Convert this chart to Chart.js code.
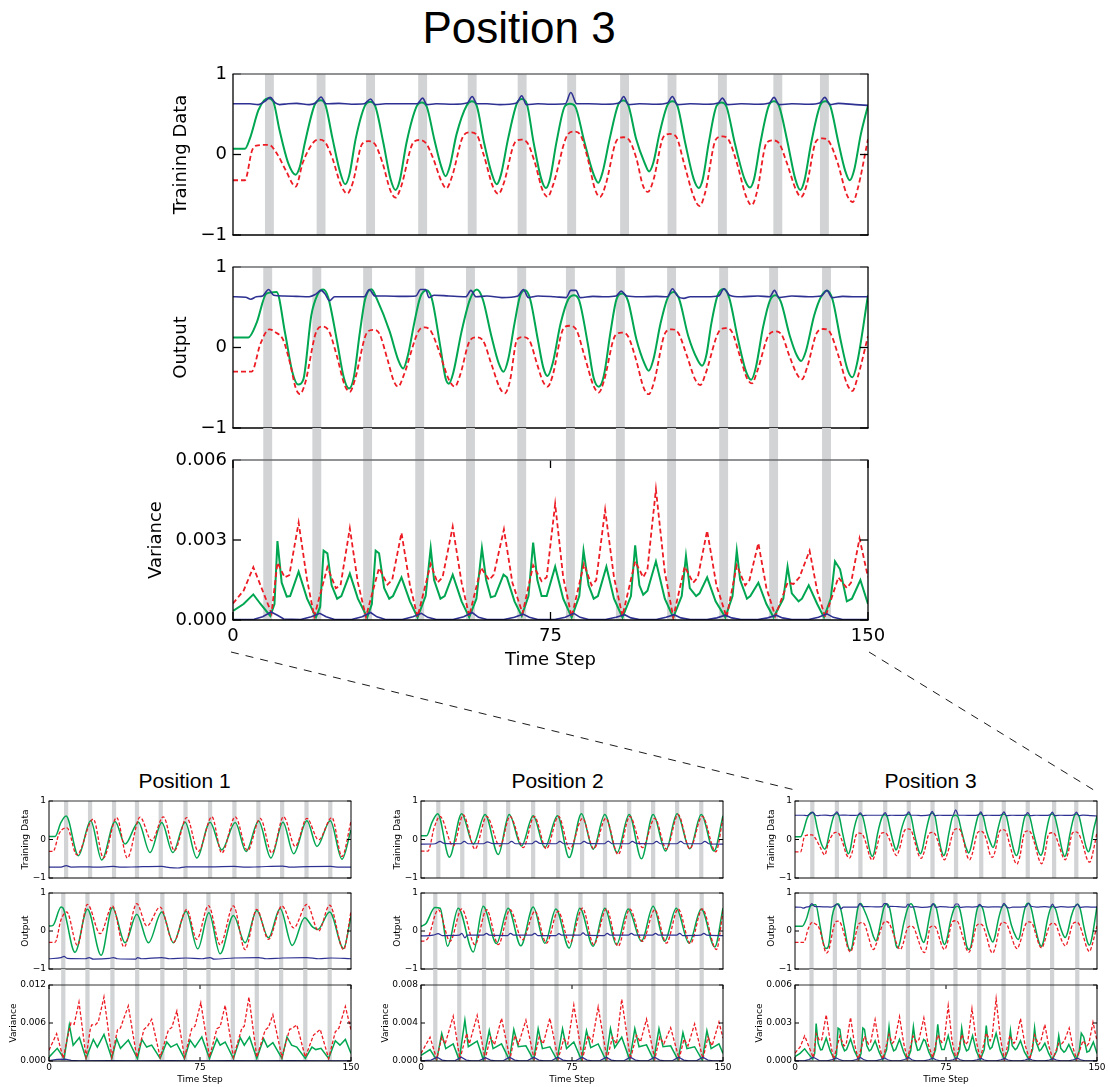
<!DOCTYPE html>
<html><head><meta charset="utf-8">
<script src="https://cdn.jsdelivr.net/npm/chart.js@4.4.1/dist/chart.umd.min.js"></script>
<style>
html,body{margin:0;padding:0;background:#fff;}
body{width:1110px;height:1087px;position:relative;overflow:hidden;}
canvas{position:absolute;}
.ttl{position:absolute;font-family:"Liberation Sans",Arial,sans-serif;color:#000;white-space:nowrap;transform:translate(-50%,-50%);line-height:1;}
svg{position:absolute;left:0;top:0;}
</style></head><body>
<div class="ttl" style="left:519px;top:28px;font-size:44px">Position 3</div>
<div class="ttl" style="left:184.5px;top:780px;font-size:21px">Position 1</div>
<div class="ttl" style="left:557.5px;top:780px;font-size:21px">Position 2</div>
<div class="ttl" style="left:930.5px;top:780px;font-size:21px">Position 3</div>
<svg width="1110" height="1087"><g stroke="#000" stroke-width="0.9" stroke-dasharray="8,7" fill="none">
<line x1="231" y1="652" x2="795" y2="790"/><line x1="869" y1="652" x2="1097" y2="792"/></g></svg>
<script>
// ---------------- DATA ----------------
const X_TICKS = [0, 75, 150];
const X_LABELS = ['0', '75', '150'];
const TRAIN_TICKS = [-1, 0, 1];
const TRAIN_LABELS = ['\u22121', '0', '1'];
const P1_VAR_TICKS = [0, 0.006, 0.012];
const P1_VAR_LABELS = ['0.000', '0.006', '0.012'];
const P2_VAR_TICKS = [0, 0.004, 0.008];
const P2_VAR_LABELS = ['0.000', '0.004', '0.008'];
const P3_VAR_TICKS = [0, 0.003, 0.006];
const P3_VAR_LABELS = ['0.000', '0.003', '0.006'];

// shaded time steps (centres)
const P1_TRAIN_BARS = [8.5, 20.4, 32.3, 43.7, 55.5, 67.8, 80, 92.1, 104, 115.8, 127.9, 139.7];
const P1_OUT_BARS = [7.1, 19.1, 31.5, 43.8, 56.3, 67.6, 79.2, 91.3, 103.2, 115.3, 127.3, 139.4];
const P2_TRAIN_BARS = [8.6, 20.5, 31.9, 43.3, 55.7, 68.1, 80, 91.4, 103.4, 115.3, 127.2, 139.2];
const P2_OUT_BARS = [7.1, 19, 31.3, 42.8, 55.2, 67.3, 79.2, 91.3, 103.2, 115.4, 127.2, 139.4];
const P3_TRAIN_BARS = [8.6, 20.8, 32.5, 44.8, 56.5, 68.3, 80.0, 92.5, 103.7, 115.6, 128.7, 139.7];
const P3_OUT_BARS = [8.2, 19.8, 31.8, 44.1, 56.1, 68.2, 79.7, 91.5, 103.6, 115.9, 127.7, 140.2];
const BAR_WIDTH = 2.1;

// ----- Position 3 -----
const P3_TRAIN_GREEN = [[0,0.07],[2.8,0.07],[4,0.2],[6,0.55],[7.3,0.67],[8.3,0.70],[9.5,0.66],[11,0.3],[13,-0.1],[14.8,-0.25],[15.8,-0.15],[17,0.15],[19.4,0.63],[20.6,0.675],[21.8,0.62],[23.5,0.2],[25.2,-0.2],[26.5,-0.37],[27.5,-0.25],[29,0.2],[31.2,0.61],[32.4,0.654],[33.6,0.6],[35.5,0.15],[37.2,-0.3],[38.4,-0.44],[39.4,-0.32],[41,0.15],[43.4,0.6],[44.6,0.646],[45.8,0.59],[47.5,0.2],[49.2,-0.15],[50.2,-0.27],[51.2,-0.15],[52.8,0.25],[55.2,0.61],[56.4,0.66],[57.6,0.6],[59.3,0.15],[61.2,-0.25],[62.3,-0.37],[63.3,-0.25],[65,0.2],[67.1,0.64],[68.2,0.69],[69.4,0.63],[71,0.15],[72.8,-0.3],[73.9,-0.415],[74.9,-0.3],[76.4,0.15],[78.4,0.6],[79.6,0.63],[80.8,0.6],[82.8,0.2],[85,-0.22],[86.3,-0.35],[87.3,-0.22],[89,0.2],[91.0,0.62],[92.2,0.67],[93.4,0.61],[95.2,0.2],[97.2,-0.1],[98.3,-0.21],[99.3,-0.1],[100.7,0.25],[102.6,0.61],[103.8,0.66],[105,0.6],[106.8,0.15],[108.8,-0.3],[110,-0.415],[111,-0.3],[112.4,0.15],[114.2,0.6],[115.4,0.646],[116.6,0.59],[118.5,0.15],[120.8,-0.3],[122.1,-0.41],[123.1,-0.3],[124.6,0.15],[126.6,0.61],[127.8,0.66],[129,0.6],[131,0.15],[132.8,-0.3],[134,-0.44],[135,-0.32],[136.6,0.15],[138.7,0.61],[139.9,0.66],[141.1,0.6],[143,0.15],[144.6,-0.2],[145.7,-0.32],[146.7,-0.2],[148.3,0.25],[150,0.61]];
const P3_TRAIN_RED = [[0,-0.32],[2.8,-0.32],[4.5,0.05],[5.5,0.11],[8.5,0.12],[10.5,0.0],[12.5,-0.2],[14.8,-0.40],[16.5,-0.1],[19,0.15],[20.3,0.185],[21.8,0.15],[23.5,-0.05],[25.5,-0.38],[27,-0.485],[28.3,-0.35],[30.5,0.13],[32,0.165],[33.5,0.13],[35.3,-0.1],[37.2,-0.45],[38.4,-0.535],[39.7,-0.4],[42.6,0.15],[44.1,0.18],[45.6,0.14],[47.3,-0.05],[49.2,-0.33],[50.4,-0.42],[51.7,-0.28],[54.5,0.24],[56,0.275],[57.5,0.25],[59.2,0.0],[61.4,-0.4],[62.7,-0.49],[64,-0.35],[66.6,0.15],[68.1,0.185],[69.6,0.14],[71.3,-0.1],[73.1,-0.44],[74.3,-0.527],[75.6,-0.38],[79.1,0.25],[80.6,0.284],[82.1,0.24],[83.8,-0.05],[85.5,-0.43],[86.7,-0.527],[88,-0.38],[90.7,0.18],[92.2,0.214],[93.7,0.17],[95.3,-0.05],[96.8,-0.38],[98,-0.465],[99.3,-0.32],[101.7,0.22],[103.2,0.255],[104.7,0.22],[106.5,-0.1],[108.8,-0.52],[110.2,-0.64],[111.5,-0.48],[114.1,0.19],[115.6,0.224],[117.1,0.18],[119,-0.1],[121.2,-0.52],[122.5,-0.63],[123.8,-0.46],[126,0.14],[127.5,0.175],[129,0.14],[130.8,-0.1],[133,-0.44],[134.2,-0.527],[135.5,-0.38],[137.8,0.17],[139.3,0.20],[140.8,0.16],[142.8,-0.1],[145,-0.5],[146.4,-0.59],[147.6,-0.42],[150,0.19]];
const P3_TRAIN_BLUE = [[0,0.63],[4,0.63],[6,0.62],[7.5,0.66],[8.8,0.71],[10,0.64],[11,0.62],[13,0.63],[15,0.635],[18,0.62],[19.5,0.64],[20.8,0.715],[22,0.63],[25,0.635],[28,0.625],[31,0.63],[32.5,0.69],[33.6,0.62],[36,0.63],[40,0.63],[43.5,0.63],[44.8,0.70],[45.8,0.62],[48,0.63],[52,0.625],[55.3,0.64],[56.5,0.72],[57.6,0.63],[60,0.63],[63,0.62],[67,0.64],[68.2,0.73],[69.3,0.62],[72,0.63],[75,0.625],[78.5,0.63],[79.8,0.77],[81.2,0.63],[84,0.63],[88,0.625],[91.2,0.64],[92.3,0.72],[93.4,0.62],[96,0.63],[100,0.625],[102.6,0.64],[103.8,0.72],[105,0.62],[108,0.63],[112,0.625],[114.6,0.64],[115.6,0.70],[116.8,0.62],[120,0.63],[124,0.625],[126.7,0.64],[127.8,0.71],[129,0.62],[132,0.63],[136,0.625],[138.6,0.64],[139.8,0.71],[141,0.62],[143,0.635],[147,0.62],[150,0.61]];
const P3_OUT_GREEN = [[0,0.125],[3.6,0.125],[5.6,0.31],[7.9,0.67],[10.3,0.69],[12.3,0.18],[14,-0.3],[15.4,-0.46],[16.6,-0.4],[18.5,0.4],[20,0.66],[21.3,0.72],[22.5,0.62],[24.5,0.1],[26.2,-0.38],[27.4,-0.51],[28.5,-0.38],[30,0.2],[31.2,0.6],[32.7,0.725],[34,0.6],[37,0.2],[39,-0.15],[40.2,-0.26],[41.3,-0.1],[42.8,0.3],[44.2,0.62],[45.7,0.71],[47,0.6],[49,0.0],[50.2,-0.38],[51,-0.45],[52,-0.32],[54,0.2],[56,0.6],[57.6,0.72],[59,0.6],[61,0.15],[62.8,-0.2],[63.9,-0.3],[65,-0.15],[66.5,0.3],[67.8,0.64],[69,0.71],[70.2,0.6],[72,0.1],[73.3,-0.25],[74.3,-0.354],[75.5,-0.2],[77.4,0.3],[79.2,0.6],[80.6,0.65],[81.8,0.58],[83.8,0.05],[85.2,-0.38],[86.4,-0.487],[87.6,-0.35],[89.2,0.2],[90.6,0.6],[92,0.67],[93.3,0.58],[95.3,0.1],[97.2,-0.2],[98.2,-0.29],[99.3,-0.15],[101,0.3],[102.7,0.62],[104.1,0.69],[105.4,0.6],[107.5,0.15],[109.7,-0.15],[110.8,-0.226],[111.8,-0.1],[113,0.3],[114.5,0.65],[115.9,0.727],[117.2,0.62],[119.3,0.1],[121.2,-0.3],[122.4,-0.4],[123.5,-0.25],[125.2,0.25],[126.8,0.58],[128.1,0.65],[129.4,0.57],[131.5,0.15],[133.2,-0.1],[134.2,-0.168],[135.3,-0.05],[137.3,0.4],[139,0.64],[140.3,0.705],[141.6,0.6],[143.5,0.1],[145.2,-0.28],[146.3,-0.37],[147.4,-0.2],[150,0.65]];
const P3_OUT_RED = [[0,-0.30],[4.4,-0.30],[6.5,0.05],[8.6,0.226],[10,0.19],[11.8,0.1],[13.5,-0.2],[14.8,-0.5],[15.8,-0.578],[17,-0.45],[19.7,0.2],[21.2,0.26],[22.7,0.2],[24.5,-0.1],[26.4,-0.47],[27.6,-0.55],[28.8,-0.4],[31.6,0.18],[33.1,0.22],[34.6,0.17],[36.5,-0.15],[38,-0.42],[39,-0.487],[40.3,-0.35],[43.8,0.2],[45.3,0.25],[46.8,0.2],[48.7,-0.05],[51,-0.4],[52.4,-0.487],[53.6,-0.35],[56,0.09],[57.5,0.126],[59,0.09],[61,-0.2],[63,-0.5],[64.2,-0.57],[65.4,-0.42],[67.1,0.1],[68.6,0.13],[70.1,0.08],[71.8,-0.2],[73.2,-0.42],[74.3,-0.487],[75.5,-0.35],[78,0.23],[79.5,0.27],[81,0.23],[83,-0.1],[85.2,-0.48],[86.4,-0.56],[87.6,-0.42],[90.3,0.15],[91.8,0.184],[93.3,0.14],[95.2,-0.15],[97,-0.5],[98.2,-0.58],[99.4,-0.44],[102.2,0.19],[103.7,0.226],[105.2,0.18],[107.2,-0.1],[109.2,-0.4],[110.4,-0.466],[111.6,-0.33],[114.8,0.2],[116.3,0.24],[117.8,0.2],[119.7,-0.1],[121.4,-0.38],[122.6,-0.445],[123.8,-0.3],[126.6,0.16],[128.1,0.2],[129.6,0.16],[131.4,-0.1],[133.2,-0.33],[134.4,-0.395],[135.6,-0.25],[138,0.19],[139.5,0.23],[141,0.19],[143,-0.1],[145.1,-0.46],[146.3,-0.54],[147.5,-0.38],[150,0.14]];
const P3_OUT_BLUE = [[0,0.63],[3,0.625],[4.2,0.60],[5.5,0.63],[7,0.64],[8.4,0.72],[9.6,0.65],[12,0.64],[15,0.635],[18,0.63],[19.5,0.66],[20.8,0.71],[21.8,0.66],[22.8,0.58],[24,0.63],[27,0.63],[31,0.63],[32.2,0.72],[33.5,0.64],[36,0.64],[40,0.635],[43.2,0.64],[44.3,0.72],[45.5,0.72],[46.3,0.62],[47.5,0.65],[51,0.64],[55,0.63],[56.2,0.71],[57.4,0.63],[60,0.64],[63.5,0.62],[67.3,0.64],[68.6,0.72],[69.8,0.62],[72,0.64],[76,0.63],[78.7,0.62],[79.8,0.71],[81,0.71],[82,0.62],[85,0.635],[88,0.63],[90.5,0.64],[91.7,0.7],[93,0.64],[96,0.63],[100,0.635],[102.6,0.63],[103.8,0.73],[105,0.64],[106.5,0.61],[108,0.63],[112,0.63],[114.7,0.64],[116,0.73],[117.3,0.65],[120,0.63],[124,0.64],[126.8,0.63],[127.9,0.71],[129,0.62],[132,0.64],[136,0.63],[139,0.64],[140.3,0.71],[141.5,0.62],[144,0.635],[147,0.63],[150,0.63]];
const P3_VAR_RED = [[0,0.00062],[2.5,0.0011],[4.8,0.00198],[6.5,0.0013],[9.1,0.00025],[10.5,0.00215],[12.2,0.0016],[13.3,0.00168],[15.5,0.00365],[17.5,0.0015],[19.2,0.00013],[22.3,0.00198],[24.3,0.00119],[25.4,0.0013],[27.6,0.00344],[29.5,0.0014],[31.4,0.00012],[34.5,0.00195],[36.5,0.00133],[37.6,0.0015],[39.8,0.00327],[41.8,0.0013],[43.6,0.00012],[46.7,0.0021],[48.3,0.0014],[49.5,0.0016],[51.9,0.0035],[54,0.0014],[55.8,0.00015],[58.6,0.00196],[60.5,0.0015],[61.6,0.0017],[64,0.0034],[66,0.0014],[68.4,0.00025],[70.9,0.00205],[72.9,0.00146],[74.1,0.0016],[76.1,0.00435],[78,0.0016],[80,0.00012],[82.9,0.0021],[84.7,0.0013],[85.8,0.0015],[87.9,0.00413],[90,0.0016],[92,0.00015],[95,0.0022],[96.9,0.0016],[97.9,0.0019],[99.9,0.0049],[102,0.0018],[104,0.0001],[106.7,0.002],[108.7,0.0014],[109.8,0.0016],[112,0.00335],[114.2,0.0013],[116.6,0.0001],[119,0.00205],[121,0.0013],[122,0.0015],[124.1,0.00288],[126,0.0012],[128.1,0.00015],[131,0.0014],[132.4,0.00135],[133.8,0.0016],[136.2,0.0026],[138,0.0011],[139.9,0.0001],[143,0.0016],[145,0.0012],[146,0.0014],[148,0.00306],[150,0.0016]];
const P3_VAR_GREEN = [[0,0.00034],[2.5,0.0006],[4.8,0.00096],[6.5,0.0006],[8.8,0.00015],[9.8,0.0006],[10.5,0.00296],[11.5,0.0014],[12.7,0.00088],[13.5,0.0009],[15.5,0.00181],[17.5,0.0008],[19.6,0.0001],[20.6,0.0005],[21.4,0.0026],[22.3,0.0025],[23.3,0.0013],[24.6,0.0008],[25.6,0.0009],[27.6,0.00174],[29.5,0.0008],[31.7,0.0001],[32.8,0.0006],[33.7,0.0026],[34.5,0.0025],[35.7,0.0012],[36.9,0.0008],[37.8,0.0009],[39.8,0.0016],[41.8,0.0007],[43.6,0.0001],[45.5,0.0009],[46.7,0.0027],[47.5,0.0015],[49,0.0008],[50,0.0009],[51.9,0.0017],[54,0.0007],[55.8,0.0001],[57.5,0.0008],[58.8,0.0027],[59.8,0.0015],[60.9,0.00085],[61.9,0.0009],[63.9,0.0017],[64.7,0.0016],[66.5,0.0007],[68.2,0.00015],[69.8,0.0009],[70.9,0.0029],[71.9,0.0015],[72.9,0.0009],[74.1,0.0009],[76.1,0.002],[78,0.0008],[80,0.0001],[81.8,0.0009],[82.8,0.0026],[84,0.0013],[85.2,0.0008],[86.2,0.0009],[88.2,0.002],[90,0.0008],[92,0.0001],[94,0.0009],[95,0.0028],[96,0.0013],[96.9,0.00095],[97.9,0.0011],[99.9,0.0022],[102,0.0008],[104,0.0001],[106,0.0009],[107,0.0024],[107.9,0.0012],[109.4,0.0009],[110.2,0.001],[112,0.0016],[114,0.0007],[116.3,0.0001],[118,0.0009],[119,0.0026],[119.8,0.0015],[121.4,0.0008],[122.2,0.0009],[124.1,0.0014],[126,0.0006],[127.7,0.0001],[130,0.0008],[131,0.002],[132,0.001],[133.6,0.0007],[134.4,0.0008],[136,0.0013],[138,0.0006],[139.6,0.0001],[141.2,0.0008],[142.2,0.0022],[143.4,0.0019],[145,0.0007],[146.2,0.0008],[148.2,0.0015],[150,0.0006]];
const P3_VAR_BLUE = [[0,0.00002],[5,0.00003],[7,0.00012],[9,0.0003],[10.5,0.00018],[12,0.00004],[16,0.00002],[18.5,0.00012],[20.5,0.00025],[22,0.00012],[24,0.00002],[28,0.00002],[30.5,0.00012],[32.5,0.00028],[34,0.00012],[36,0.00002],[40,0.00002],[42.5,0.00012],[44.5,0.00025],[46,0.0001],[48,0.00002],[52,0.00002],[54.5,0.00012],[56.5,0.00028],[58,0.0001],[60,0.00002],[64,0.00002],[66.5,0.0001],[68.5,0.00022],[70,0.0001],[72,0.00002],[76,0.00002],[78.5,0.0001],[80.5,0.00025],[82,0.0001],[84,0.00002],[88,0.00002],[90.5,0.0001],[92.5,0.0002],[94,0.00008],[96,0.00002],[100,0.00002],[102.3,0.0001],[104.2,0.0002],[105.8,0.00008],[108,0.00002],[112,0.00002],[114.3,0.00008],[116.3,0.00018],[117.8,0.00008],[120,0.00002],[124,0.00002],[126.3,0.00008],[128.3,0.00018],[129.8,0.00008],[132,0.00002],[136,0.00002],[138.3,0.0001],[140.3,0.00023],[141.8,0.0001],[144,0.00002],[150,0.00002]];

// ----- Position 1 -----
const P1_TRAIN_GREEN = [[0,0.08],[3,0.08],[6,0.45],[8.5,0.61],[14.6,-0.42],[20.7,0.49],[26.2,-0.53],[32.8,0.47],[37.8,-0.12],[44.4,0.45],[50.2,-0.34],[56,0.44],[61.5,-0.34],[67.6,0.45],[73.4,-0.48],[80,0.45],[85.8,-0.27],[92.5,0.44],[97.9,-0.31],[104.1,0.48],[110.2,-0.48],[116.2,0.45],[121.5,-0.37],[128.1,0.49],[133.1,-0.18],[139.7,0.49],[145.5,-0.51],[150,0.25]];
const P1_TRAIN_RED = [[0,-0.31],[2,-0.31],[5,0.15],[7.5,0.29],[9,0.3],[13.8,-0.4],[22,0.53],[27,-0.48],[33.6,0.57],[38.9,-0.48],[45.2,0.58],[51,-0.03],[56.8,0.59],[62.3,-0.29],[68.4,0.57],[74.2,-0.31],[80.9,0.59],[85.8,-0.35],[92.5,0.59],[98.6,-0.29],[104.9,0.55],[110.7,-0.35],[116.5,0.59],[122.3,-0.18],[128.1,0.55],[133.9,-0.01],[140.5,0.57],[145.5,-0.44],[150,0.47]];
const P1_TRAIN_BLUE = [[0,-0.72],[6,-0.715],[8.5,-0.68],[11,-0.715],[20,-0.71],[24,-0.72],[32,-0.7],[36,-0.72],[44,-0.71],[56,-0.7],[60,-0.73],[64,-0.74],[68,-0.71],[80,-0.71],[92,-0.7],[98,-0.72],[104,-0.71],[116,-0.69],[120,-0.72],[128,-0.705],[140,-0.7],[144,-0.72],[150,-0.72]];
const P1_OUT_GREEN = [[0,0.13],[2,0.15],[6,0.63],[7,0.6],[12.9,-0.56],[19.1,0.57],[25.9,-0.64],[31.5,0.61],[37.8,-0.31],[43.6,0.44],[49.4,-0.31],[56,0.5],[61.8,-0.31],[68.1,0.52],[73.9,-0.47],[79.4,0.48],[85,-0.6],[91.6,0.41],[97.4,-0.31],[103.2,0.54],[109,-0.18],[114.8,0.59],[120.8,-0.38],[127,0.35],[131,0.1],[133.5,0.04],[139.4,0.5],[146.3,-0.46],[150,0.39]];
const P1_OUT_RED = [[0,-0.3],[3,-0.3],[6,0.3],[8.8,0.5],[14.1,-0.38],[19.1,0.7],[25.4,-0.07],[31.5,0.66],[37.3,-0.42],[43.6,0.72],[48.6,0.13],[55.2,0.63],[61.8,-0.3],[68.4,0.57],[73.4,-0.22],[79.2,0.67],[85,-0.36],[91.6,0.66],[97.4,-0.49],[103.2,0.57],[109,-0.22],[115.7,0.66],[121.5,0.08],[128.1,0.7],[133.9,0.0],[139.4,0.68],[146.3,-0.49],[150,0.52]];
const P1_OUT_BLUE = [[0,-0.73],[6,-0.7],[7.5,-0.67],[9,-0.72],[18,-0.73],[20,-0.7],[22,-0.74],[30,-0.72],[32,-0.7],[34,-0.73],[43,-0.74],[44,-0.7],[46,-0.73],[56,-0.7],[60,-0.73],[68,-0.71],[76,-0.73],[80,-0.7],[82,-0.74],[92,-0.71],[104,-0.7],[108,-0.73],[116,-0.71],[128,-0.7],[134,-0.73],[140,-0.71],[150,-0.73]];
const P1_VAR_RED = [[0,0.0017],[3.8,0.0043],[7.1,0.0004],[9,0.0035],[10.9,0.006],[12.5,0.0058],[14.9,0.0093],[18.4,0.0006],[20.5,0.005],[21.2,0.0057],[23,0.0057],[24.5,0.0062],[27.3,0.0101],[31.2,0.0006],[34,0.0049],[35.5,0.0052],[37,0.0066],[39.4,0.0087],[43.6,0.0006],[47.2,0.005],[49,0.0055],[51,0.0066],[55.2,0.0006],[59.3,0.0049],[61,0.0053],[63.5,0.0079],[67.3,0.0006],[70.9,0.0051],[72.5,0.0055],[75.4,0.0092],[79.7,0.0006],[83.4,0.0051],[85,0.0054],[87.5,0.0088],[91.6,0.0006],[95.8,0.0052],[97,0.0055],[99.3,0.0101],[103.2,0.0006],[107.4,0.0049],[109,0.0053],[111.2,0.0073],[115.7,0.0006],[119.5,0.005],[121,0.0052],[123.1,0.0057],[127.3,0.0006],[131.4,0.0041],[133,0.0045],[134.7,0.005],[138.9,0.0004],[142.2,0.0046],[144,0.0052],[147.2,0.0086],[150,0.0049]];
const P1_VAR_GREEN = [[0,0.0006],[4.1,0.002],[7.5,0.0004],[10.1,0.0057],[12,0.0025],[15.1,0.0037],[18.4,0.0004],[22,0.0034],[24,0.0022],[27.3,0.0042],[31.2,0.0004],[33.6,0.0035],[35.5,0.002],[39.4,0.0033],[43.9,0.0004],[46.1,0.0034],[48.5,0.0022],[51,0.0025],[55.2,0.0004],[58.5,0.003],[60.5,0.0022],[63.5,0.0027],[67.3,0.0004],[70.1,0.0033],[72.5,0.0022],[75.9,0.0038],[79.7,0.0004],[83.4,0.0035],[85,0.0025],[87.5,0.003],[91.6,0.0004],[95,0.0037],[97,0.0025],[99.6,0.0038],[103.2,0.0004],[106.6,0.0035],[108.5,0.0022],[111.2,0.0029],[115.7,0.0004],[118.2,0.0038],[120.5,0.0025],[123.1,0.0022],[127.3,0.0004],[130.6,0.0022],[132.5,0.0018],[135.1,0.002],[138.9,0.0004],[142.2,0.0032],[144.5,0.0025],[147.2,0.0034],[150,0.0012]];
const P1_VAR_BLUE = [[0,0.00008],[4,0.00025],[8,0.0003],[11,0.0001],[15,0.00003],[30,0.00005],[45,0.00003],[60,0.00005],[75,0.00003],[90,0.00005],[105,0.00003],[120,0.00005],[135,0.00003],[150,0.00004]];

// ----- Position 2 -----
const P2_TRAIN_GREEN = [[0,0.1],[2.8,0.1],[5.5,0.45],[8.3,0.67],[14.1,-0.46],[20.2,0.67],[26,-0.12],[31.8,0.65],[38.4,-0.39],[43.8,0.65],[49.9,-0.17],[55.7,0.62],[61.5,-0.21],[67.8,0.62],[73.6,-0.47],[79.7,0.67],[85.5,-0.25],[91.3,0.65],[97.4,-0.34],[103.4,0.65],[109.5,-0.5],[115.3,0.65],[121.5,-0.3],[127.2,0.67],[133.5,-0.24],[139.2,0.65],[145.5,-0.3],[150,0.62]];
const P2_TRAIN_RED = [[0,-0.3],[3.5,-0.3],[6.5,0.3],[9.4,0.6],[16,-0.17],[21,0.64],[26.8,-0.25],[32.6,0.6],[39.2,-0.17],[44.2,0.6],[50.8,-0.21],[56.2,0.6],[62.3,-0.24],[68.3,0.6],[73.9,-0.25],[80.2,0.55],[85.8,-0.24],[91.8,0.55],[97.9,-0.39],[103.7,0.6],[110,-0.21],[116.1,0.55],[121.9,-0.25],[127.7,0.65],[133.5,-0.24],[139.7,0.6],[146.4,-0.32],[150,0.55]];
const P2_TRAIN_BLUE = [[0,-0.12],[7,-0.11],[9.5,-0.05],[11.5,-0.1],[19.5,-0.11],[21.5,-0.05],[23.5,-0.11],[31,-0.11],[33,-0.06],[35,-0.1],[43,-0.11],[45,-0.05],[47,-0.11],[55,-0.11],[57,-0.04],[59,-0.1],[67,-0.11],[69,-0.05],[71,-0.11],[79,-0.11],[81,-0.05],[83,-0.1],[91,-0.11],[93,-0.04],[95,-0.11],[103,-0.11],[105,-0.05],[107,-0.1],[115,-0.11],[117,-0.05],[119,-0.11],[127,-0.11],[129,-0.05],[131,-0.11],[139,-0.11],[141,-0.05],[143,-0.11],[150,-0.12]];
const P2_OUT_GREEN = [[0,0.12],[2.5,0.2],[6.9,0.62],[9.5,0.6],[13.2,-0.4],[18.5,0.6],[26,-0.55],[30.9,0.65],[37.5,-0.33],[43.3,0.6],[49.6,-0.39],[55.7,0.63],[61.5,-0.32],[67,0.58],[73.6,-0.45],[78.9,0.6],[85.5,-0.4],[91.3,0.6],[97.1,-0.36],[102.9,0.58],[109.5,-0.27],[115.3,0.65],[121,-0.27],[126.8,0.6],[133.1,-0.32],[139.2,0.58],[145.9,-0.42],[150,0.6]];
const P2_OUT_RED = [[0,-0.27],[3,-0.22],[8.6,0.56],[14.4,-0.27],[20.2,0.58],[26.8,-0.36],[32.6,0.56],[38.4,-0.36],[44.2,0.56],[50.4,-0.23],[56.6,0.52],[62.3,-0.32],[68.1,0.52],[73.9,-0.32],[80.2,0.6],[85.8,-0.36],[92.1,0.58],[97.9,-0.4],[103.7,0.58],[110,-0.27],[116.1,0.56],[121.9,-0.32],[127.7,0.58],[133.8,-0.33],[139.7,0.58],[146.7,-0.49],[150,0.52]];
const P2_OUT_BLUE = [[0,-0.13],[6,-0.11],[8.5,-0.07],[10.5,-0.12],[19,-0.11],[20.3,-0.06],[21.8,-0.18],[23,-0.11],[31,-0.11],[32.5,-0.06],[34,-0.11],[43,-0.12],[44.5,-0.06],[46,-0.11],[55,-0.11],[56.5,-0.06],[58,-0.12],[67,-0.12],[68.5,-0.07],[70,-0.11],[79,-0.11],[80.5,-0.05],[82,-0.11],[91,-0.12],[92.5,-0.06],[94,-0.11],[103,-0.11],[104.5,-0.06],[106,-0.11],[115,-0.11],[116.5,-0.06],[118,-0.11],[127,-0.11],[128.5,-0.06],[130,-0.12],[139,-0.11],[140.5,-0.06],[142,-0.11],[150,-0.12]];
const P2_VAR_RED = [[0,0.0008],[4.5,0.0025],[7.8,0.0002],[10.3,0.0025],[12,0.0018],[16,0.0047],[19.3,0.0002],[22.7,0.0029],[24,0.0018],[27.9,0.0048],[31.8,0.0002],[34.6,0.0025],[36.5,0.0017],[40,0.0045],[44.2,0.0002],[46.6,0.0027],[48.5,0.0018],[52.1,0.0043],[56.2,0.0002],[58.7,0.0025],[60.7,0.0018],[64,0.0045],[68.1,0.0002],[70.9,0.0023],[72.9,0.0018],[75.9,0.0059],[80.2,0.0002],[83,0.0027],[85,0.002],[88,0.0057],[92.4,0.0002],[95.1,0.0025],[97.1,0.0018],[99.7,0.0065],[104,0.0002],[107,0.0027],[109,0.002],[112,0.0044],[116.1,0.0002],[118.6,0.0025],[120.6,0.0018],[124,0.0035],[128.2,0.0002],[130.6,0.0023],[132.6,0.0016],[135.9,0.0039],[140,0.0002],[142.5,0.0025],[144.6,0.0016],[148,0.0041],[150,0.0024]];
const P2_VAR_GREEN = [[0,0.0006],[4.5,0.0012],[7.8,0.0001],[10.3,0.0029],[12.3,0.0013],[16,0.0018],[19,0.0001],[21.8,0.0043],[23.5,0.0015],[27.9,0.0021],[31,0.0001],[33.9,0.0032],[35.8,0.0013],[40,0.0018],[43.9,0.0001],[46.1,0.0033],[48.3,0.0015],[52.1,0.0016],[56,0.0001],[58.2,0.0034],[60.3,0.0013],[64,0.0015],[67.6,0.0001],[70.3,0.0034],[72.3,0.0013],[75.9,0.002],[79.7,0.0001],[82.2,0.0032],[84.3,0.0014],[88,0.0018],[91.8,0.0001],[94.1,0.0034],[96.2,0.0014],[99.7,0.0025],[103.7,0.0001],[106.2,0.0034],[108.3,0.0015],[112,0.0017],[115.6,0.0001],[118.2,0.0034],[120.2,0.0015],[124,0.0016],[127.7,0.0001],[130.1,0.003],[132.1,0.0013],[135.9,0.0015],[139.7,0.0001],[142,0.0032],[144.1,0.0013],[148,0.0018],[150,0.0008]];
const P2_VAR_BLUE = [[0,0.00002],[5,0.0001],[8,0.0004],[10.5,0.0001],[13,0.00002],[17,0.00005],[20,0.0004],[22.5,0.0001],[25,0.00002],[29,0.00005],[32,0.00035],[34.5,0.0001],[37,0.00002],[41,0.00005],[44,0.0004],[46.5,0.0001],[49,0.00002],[53,0.00005],[56,0.0004],[58.5,0.0001],[61,0.00002],[65,0.00005],[68,0.0004],[70.5,0.0001],[73,0.00002],[77,0.00005],[80,0.0004],[82.5,0.0001],[85,0.00002],[89,0.00005],[92,0.0004],[94.5,0.0001],[97,0.00002],[101,0.00005],[104,0.0004],[106.5,0.0001],[109,0.00002],[113,0.00005],[116,0.0004],[118.5,0.0001],[121,0.00002],[125,0.00005],[128,0.0004],[130.5,0.0001],[133,0.00002],[137,0.00005],[140,0.0004],[142.5,0.0001],[145,0.00002],[150,0.00002]];

// ---------------- RENDERING ----------------
const FONT = "'DejaVu Sans', sans-serif";
const COL = {blue:'#2e3192', green:'#00a651', red:'#ed1c24', bar:'#d1d3d4'};

const bands = {
  id: 'bands',
  beforeDatasetsDraw(chart, args, o) {
    const {ctx, chartArea: a, scales: {x}} = chart;
    ctx.save();
    ctx.fillStyle = COL.bar;
    o.centers.forEach(c => {
      const x1 = x.getPixelForValue(c - o.width / 2);
      const x2 = x.getPixelForValue(c + o.width / 2);
      ctx.fillRect(x1, a.top - o.extendUp, x2 - x1, a.bottom - a.top + o.extendUp);
    });
    ctx.restore();
  }
};
const frame = {
  id: 'frame',
  afterDraw(chart, args, o) {
    const {ctx, chartArea: a, scales: {x, y}} = chart;
    ctx.save();
    ctx.lineWidth = o.lw;
    const seg = (x1, y1, x2, y2, c) => { ctx.strokeStyle = c; ctx.beginPath(); ctx.moveTo(x1, y1); ctx.lineTo(x2, y2); ctx.stroke(); };
    y.ticks.forEach(t => { const py = y.getPixelForValue(t.value); seg(a.left, py, a.left + o.tick, py, '#000'); seg(a.right - o.tick, py, a.right, py, '#000'); });
    if (o.xTicks) x.ticks.forEach(t => { const px = x.getPixelForValue(t.value); seg(px, a.bottom, px, a.bottom - o.tick, '#000'); seg(px, a.top, px, a.top + o.tick, '#000'); });
    seg(a.left - o.lw / 2, a.top, a.right + o.lw / 2, a.top, o.topColor);
    seg(a.left, a.top, a.left, a.bottom, '#000');
    seg(a.right, a.top, a.right, a.bottom, '#000');
    seg(a.left - o.lw / 2, a.bottom, a.right + o.lw / 2, a.bottom, '#000');
    ctx.restore();
  }
};

function panel(p) {
  const hasX = !!p.xTicks;
  const W = p.padL + p.w + p.padR, H = p.padT + p.h + p.padB;
  const cv = document.createElement('canvas');
  cv.width = W; cv.height = H;
  cv.style.left = (p.left - p.padL) + 'px';
  cv.style.top = (p.top - p.padT) + 'px';
  cv.style.width = W + 'px'; cv.style.height = H + 'px';
  document.body.appendChild(cv);
  const mk = (data, color, width, dash) => ({
    data, borderColor: color, borderWidth: width, borderDash: dash || [],
    pointRadius: 0, fill: false, tension: 0,
    cubicInterpolationMode: p.smooth ? 'monotone' : 'default'
  });
  const xScale = {
    type: 'linear', min: 0, max: 150, display: hasX,
    grid: {display: false, drawTicks: false}, border: {display: false},
    ticks: {padding: p.xPad, color: '#000', font: {family: FONT, size: p.fs}, maxRotation: 0, autoSkip: false,
      callback: (v, i) => X_LABELS[i]},
    title: {display: hasX, text: 'Time Step', padding: 0, color: '#000', font: {family: FONT, size: p.fs}}
  };
  if (hasX) {
    xScale.afterFit = s => { s.height = p.padB; };
    xScale.afterBuildTicks = s => { s.ticks = p.xTicks.map(v => ({value: v})); };
  }
  new Chart(cv.getContext('2d'), {
    type: 'line',
    data: {datasets: [
      mk(p.blue, COL.blue, p.lw[0]),
      mk(p.red, COL.red, p.lw[1], p.dash),
      mk(p.green, COL.green, p.lw[2])
    ]},
    options: {
      responsive: false, animation: false, devicePixelRatio: 1,
      layout: {padding: {left: 0, top: p.padT, right: p.padR, bottom: hasX ? 0 : p.padB}},
      plugins: {
        legend: {display: false}, tooltip: {enabled: false},
        bands: {centers: p.bars, width: BAR_WIDTH, extendUp: p.extendUp || 0},
        frame: {lw: p.frameW, tick: p.tickLen, xTicks: hasX, topColor: p.topColor}
      },
      scales: {
        x: xScale,
        y: {
          type: 'linear', min: p.yTicks[0], max: p.yTicks[p.yTicks.length - 1],
          afterFit: s => { s.width = p.padL; },
          afterBuildTicks: s => { s.ticks = p.yTicks.map(v => ({value: v})); },
          grid: {display: false, drawTicks: false}, border: {display: false},
          ticks: {padding: p.yPad, color: '#000', font: {family: FONT, size: p.fs}, callback: (v, i) => p.yLabels[i]},
          title: {display: true, text: p.yTitle, padding: 0, color: '#000', font: {family: FONT, size: p.fs}}
        }
      }
    },
    plugins: [bands, frame]
  });
}

// Big panels (Position 3)
const BIG = {left: 233, w: 635, padR: 28, fs: 18, yPad: 6, xPad: 6, lw: [1.6, 1.8, 2.0], dash: [5, 3], frameW: 1.3, tickLen: 8, topColor: '#6d6e71', smooth: true};
panel(Object.assign({}, BIG, {top: 74, h: 161, padL: 62, padT: 22, padB: 22, yTicks: TRAIN_TICKS, yLabels: TRAIN_LABELS, yTitle: 'Training Data',
  blue: P3_TRAIN_BLUE, red: P3_TRAIN_RED, green: P3_TRAIN_GREEN, bars: P3_TRAIN_BARS}));
panel(Object.assign({}, BIG, {top: 267, h: 161, padL: 62, padT: 22, padB: 22, yTicks: TRAIN_TICKS, yLabels: TRAIN_LABELS, yTitle: 'Output',
  blue: P3_OUT_BLUE, red: P3_OUT_RED, green: P3_OUT_GREEN, bars: P3_OUT_BARS}));
panel(Object.assign({}, BIG, {top: 460, h: 160, padL: 87, padT: 32, padB: 51, extendUp: 32, smooth: false, yTicks: P3_VAR_TICKS, yLabels: P3_VAR_LABELS, yTitle: 'Variance', xTicks: X_TICKS,
  blue: P3_VAR_BLUE, red: P3_VAR_RED, green: P3_VAR_GREEN, bars: P3_OUT_BARS}));

// Small panels
const SMALL = {w: 302, padR: 14, fs: 9, yPad: 3, xPad: 1, lw: [1.2, 1.3, 1.5], dash: [3.5, 2], frameW: 1, tickLen: 4, topColor: '#333', smooth: true};
const POSITIONS = [
  {left: 49, tb: P1_TRAIN_BARS, ob: P1_OUT_BARS, vt: P1_VAR_TICKS, vl: P1_VAR_LABELS,
   t: [P1_TRAIN_BLUE, P1_TRAIN_RED, P1_TRAIN_GREEN], o: [P1_OUT_BLUE, P1_OUT_RED, P1_OUT_GREEN], v: [P1_VAR_BLUE, P1_VAR_RED, P1_VAR_GREEN]},
  {left: 421, tb: P2_TRAIN_BARS, ob: P2_OUT_BARS, vt: P2_VAR_TICKS, vl: P2_VAR_LABELS,
   t: [P2_TRAIN_BLUE, P2_TRAIN_RED, P2_TRAIN_GREEN], o: [P2_OUT_BLUE, P2_OUT_RED, P2_OUT_GREEN], v: [P2_VAR_BLUE, P2_VAR_RED, P2_VAR_GREEN]},
  {left: 795, tb: P3_TRAIN_BARS, ob: P3_OUT_BARS, vt: P3_VAR_TICKS, vl: P3_VAR_LABELS,
   t: [P3_TRAIN_BLUE, P3_TRAIN_RED, P3_TRAIN_GREEN], o: [P3_OUT_BLUE, P3_OUT_RED, P3_OUT_GREEN], v: [P3_VAR_BLUE, P3_VAR_RED, P3_VAR_GREEN]}
];
POSITIONS.forEach(P => {
  panel(Object.assign({}, SMALL, {left: P.left, top: 801, h: 77, padL: 29, padT: 11, padB: 11, yTicks: TRAIN_TICKS, yLabels: TRAIN_LABELS, yTitle: 'Training Data',
    blue: P.t[0], red: P.t[1], green: P.t[2], bars: P.tb}));
  panel(Object.assign({}, SMALL, {left: P.left, top: 893, h: 76, padL: 29, padT: 11, padB: 11, yTicks: TRAIN_TICKS, yLabels: TRAIN_LABELS, yTitle: 'Output',
    blue: P.o[0], red: P.o[1], green: P.o[2], bars: P.ob}));
  panel(Object.assign({}, SMALL, {left: P.left, top: 985, h: 76, padL: 41, padT: 16, padB: 24, extendUp: 16, smooth: false, yTicks: P.vt, yLabels: P.vl, yTitle: 'Variance', xTicks: X_TICKS,
    blue: P.v[0], red: P.v[1], green: P.v[2], bars: P.ob}));
});
</script>
</body></html>
